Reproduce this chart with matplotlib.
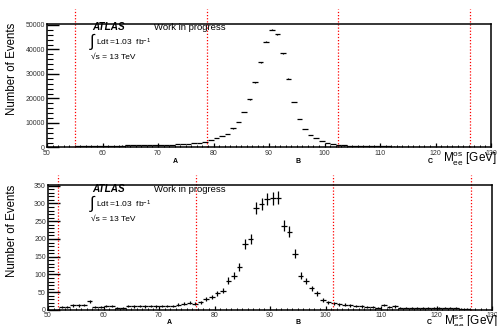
import numpy as np
import matplotlib
matplotlib.use("Agg")
import matplotlib.pyplot as plt
from matplotlib.ticker import MultipleLocator

plt.rcParams['font.family'] = ['Liberation Sans', 'DejaVu Sans']
plt.rcParams['mathtext.fontset'] = 'custom'
plt.rcParams['mathtext.rm'] = 'Liberation Sans'
plt.rcParams['mathtext.it'] = 'Liberation Sans'

# bin centres (1 GeV bins, 50-130 GeV)
bin_centers = np.arange(50.5, 130.0, 1.0)

# opposite-sign pairs
counts_os = [
    0, 0, 0, 0, 0,
    650, 660, 690, 700, 720, 730, 760, 770, 800, 820,
    850, 880, 910, 950, 990, 1040, 1100, 1170, 1260, 1370,
    1510, 1700, 1960, 2360,
    3050, 3740, 4560, 5610, 7810, 10370, 14560, 19600, 26630, 34760, 43170,
    48050, 46260, 38540, 28130, 18620, 11710, 7650, 5210, 3740, 2520, 1950,
    1420, 1050, 830, 700, 620, 560, 520, 490, 460, 440,
    420, 400, 390, 370, 360, 350, 340, 330, 320, 310,
    300, 290, 280, 270, 260, 0, 0, 0, 0,
]

# same-sign pairs
counts_ss = [
    0, 0, 8, 8, 13, 13, 14, 24, 9, 9,
    12, 11, 6, 6, 11, 10, 11, 10, 11, 10,
    12, 12, 12, 15, 17, 20, 17, 22, 32, 37,
    47, 54, 83, 97, 120, 185, 199, 286, 298, 312,
    314, 316, 237, 221, 158, 97, 81, 61, 47, 29,
    22, 19, 16, 15, 13, 12, 10, 9, 8, 7,
    14, 8, 10, 7, 7, 6, 5, 5, 6, 6,
    5, 7, 7, 5, 4, 4, 0, 0, 0, 0,
]

# region boundaries and labels
cuts_os = [55.1, 78.8, 102.5, 126.3]
cuts_ss = [51.8, 76.6, 101.4, 126.2]
region_names = ['A', 'B', 'C']
region_pos_os = [73.1, 95.3, 119.0]
region_pos_ss = [71.9, 95.0, 118.7]

W, H = 497, 326
fig = plt.figure(figsize=(W / 100, H / 100), dpi=100)

ax1 = fig.add_axes([47 / W, 1 - 147.5 / H, 444 / W, 123.5 / H])
ax2 = fig.add_axes([48 / W, 1 - 310 / H, 444 / W, 125 / H])


def draw_panel(ax, counts, ymax, ymajor, yminor, cuts, rpos, sign, yline_top, ylab):
    counts = np.array(counts, dtype=float)
    keep = counts > 0
    ax.errorbar(bin_centers[keep], counts[keep], xerr=0.5, yerr=np.sqrt(counts[keep]),
                fmt='none', ecolor='black', elinewidth=0.9, capsize=0)
    ax.set_xlim(50, 130)
    ax.set_ylim(0, ymax)
    ax.vlines(cuts, 0, yline_top, colors='red', linestyles=(0, (1, 1.5)),
              linewidth=0.9, clip_on=False)

    ax.xaxis.set_major_locator(MultipleLocator(10))
    ax.xaxis.set_minor_locator(MultipleLocator(1))
    ax.yaxis.set_major_locator(MultipleLocator(ymajor))
    ax.yaxis.set_minor_locator(MultipleLocator(yminor))
    ax.tick_params(axis='y', which='major', direction='in', length=8.5, width=1.0,
                   labelsize=5, pad=1.5, labelcolor='#333333')
    ax.tick_params(axis='y', which='minor', direction='in', length=4.3, width=0.8)
    ax.tick_params(axis='x', which='major', direction='in', length=3, width=0.9,
                   labelsize=5, pad=1.5, labelcolor='#333333')
    ax.tick_params(axis='x', which='minor', direction='in', length=1.5, width=0.7)
    for s in ax.spines.values():
        s.set_linewidth(1.1)

    for name, x in zip(region_names, rpos):
        ax.text(x, ylab, name, transform=ax.get_xaxis_transform(),
                ha='center', va='center', fontsize=5, fontweight='bold')

    ax.text(1.013, -0.125, r'M$_{ee}^{%s}$ [GeV]' % sign, transform=ax.transAxes,
            ha='right', va='baseline', fontsize=8.5)


draw_panel(ax1, counts_os, 50400, 10000, 2000, cuts_os, region_pos_os, 'os', 56700, -0.115)
draw_panel(ax2, counts_ss, 352, 50, 10, cuts_ss, region_pos_ss, 'ss', 380, -0.1)

# y titles
fig.text(12 / W, 1 - 69 / H, 'Number of Events', rotation=90, ha='center', va='center',
         fontsize=8.3)
fig.text(12 / W, 1 - 231 / H, 'Number of Events', rotation=90, ha='center', va='center',
         fontsize=8.3)

# ATLAS labels
for ytop in (27, 189):
    fig.text(92 / W, 1 - ytop / H, 'ATLAS', fontsize=7.2, fontweight='bold',
             fontstyle='italic', ha='left', va='center')
    fig.text(154 / W, 1 - ytop / H, 'Work in progress', fontsize=6.8,
             ha='left', va='center')
    fig.text(90 / W, 1 - (ytop + 15) / H, '\u222b', fontsize=12, ha='left', va='center')
    fig.text(96 / W, 1 - (ytop + 15) / H, r'Ldt =1.03  fb$^{-1}$', fontsize=6.0,
             ha='left', va='center')
    fig.text(91 / W, 1 - (ytop + 30) / H, '\u221as = 13 TeV', fontsize=6.0,
             ha='left', va='center')

fig.savefig('out.png', dpi=100)
